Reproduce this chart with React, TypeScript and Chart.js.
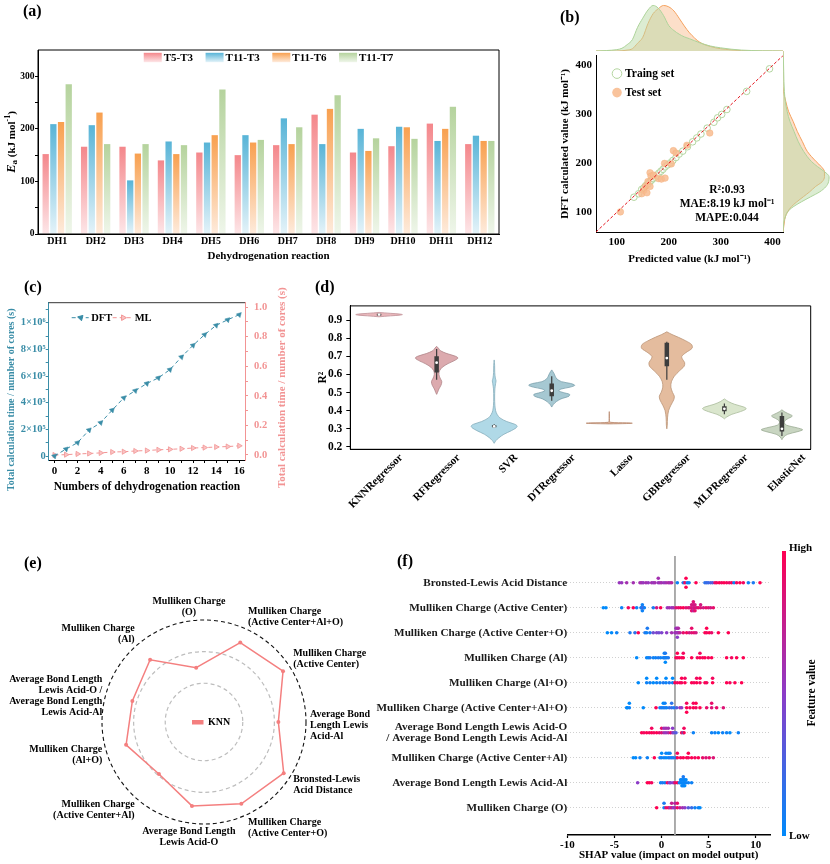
import React, { useEffect, useRef } from 'react';
import { Chart, registerables } from 'chart.js';

Chart.register(...registerables);

const SERIF = '"Liberation Serif", "Times New Roman", Times, serif';
Chart.defaults.font.family = SERIF;
Chart.defaults.font.weight = 'bold';
Chart.defaults.color = '#000';

// ================= (a) activation energies =================
const dhLabels = ['DH1', 'DH2', 'DH3', 'DH4', 'DH5', 'DH6', 'DH7', 'DH8', 'DH9', 'DH10', 'DH11', 'DH12'];
const barSeriesNames = ['T5-T3', 'T11-T3', 'T11-T6', 'T11-T7'];
const eaT5T3 = [152, 166, 166, 140, 155, 150, 169, 227, 155, 167, 210, 171];
const eaT11T3 = [209, 207, 102, 176, 174, 188, 220, 171, 200, 204, 177, 187];
const eaT11T6 = [213, 231, 153, 152, 188, 174, 171, 238, 158, 203, 200, 177];
const eaT11T7 = [285, 171, 171, 169, 275, 179, 203, 264, 182, 181, 242, 177];
const eaTicks = [0, 50, 100, 150, 200, 250, 300];
const barTopColors = ['#f4878b', '#58b4d7', '#f8a04f', '#b5d39d'];
const barBottomColors = ['#fde6e8', '#e4f3f9', '#feebdc', '#eff6ea'];

// ================= (b) parity plot =================
const parityRange = [60, 420];
const parityTicks = [100, 200, 300, 400];
const trainSet = [
  [133, 131], [142, 138], [148, 147], [152, 150], [156, 155], [160, 158], [164, 163], [167, 166],
  [170, 169], [174, 172], [177, 176], [181, 180], [185, 184], [189, 188], [193, 193], [198, 197],
  [203, 201], [208, 206], [214, 212], [220, 219], [227, 225], [236, 234], [246, 244], [254, 252],
  [262, 260], [274, 272], [287, 284], [294, 293], [302, 300], [312, 310], [350, 347], [394, 393],
];
const testSet = [
  [107, 101], [279, 262], [235, 237], [209, 226], [214, 221], [192, 200], [205, 199], [164, 181],
  [166, 174], [171, 176], [180, 169], [186, 168], [193, 170], [160, 163], [155, 153], [152, 145],
  [164, 153], [148, 138], [158, 140],
];
const densX = [60, 80, 100, 110, 120, 130, 140, 150, 160, 170, 180, 190, 200, 210, 220, 230, 240, 260, 280, 300, 320, 340, 360, 380, 400, 420];
const densTrainTop = [0, 0.01, 0.03, 0.06, 0.14, 0.25, 0.52, 0.72, 0.9, 1.0, 0.94, 0.78, 0.56, 0.45, 0.37, 0.31, 0.27, 0.18, 0.11, 0.07, 0.04, 0.02, 0.01, 0.005, 0.003, 0];
const densTestTop = [0, 0, 0, 0.005, 0.02, 0.05, 0.17, 0.3, 0.6, 0.82, 0.93, 1.0, 0.97, 0.88, 0.72, 0.55, 0.4, 0.19, 0.1, 0.05, 0.025, 0.008, 0.002, 0, 0, 0];
const densY = [60, 80, 90, 100, 110, 120, 130, 140, 150, 160, 170, 180, 190, 200, 220, 240, 260, 280, 300, 320, 340, 360, 380, 400, 420];
const densTrainRight = [0, 0.02, 0.05, 0.1, 0.22, 0.4, 0.6, 0.8, 0.93, 0.99, 1.0, 0.9, 0.75, 0.62, 0.45, 0.33, 0.24, 0.15, 0.09, 0.05, 0.03, 0.02, 0.015, 0.01, 0];
const densTestRight = [0, 0.03, 0.05, 0.1, 0.18, 0.3, 0.44, 0.58, 0.7, 0.85, 0.9, 0.9, 0.83, 0.72, 0.53, 0.42, 0.31, 0.22, 0.12, 0.06, 0.01, 0, 0, 0, 0];
const statLines = ['R\u00b2:0.93', 'MAE:8.19 kJ mol\u207b\u00b9', 'MAPE:0.044'];

// ================= (c) calculation time =================
const nReactions = [0, 1, 2, 3, 4, 5, 6, 7, 8, 9, 10, 11, 12, 13, 14, 15, 16];
const dftTime = [0, 52000, 100000, 195000, 250000, 344000, 436000, 490000, 544000, 586000, 648000, 743000, 830000, 910000, 980000, 1022000, 1060000];
const mlTime = [0, 0.002, 0.007, 0.01, 0.014, 0.02, 0.022, 0.027, 0.03, 0.035, 0.038, 0.042, 0.047, 0.05, 0.054, 0.057, 0.062];
const dftTicks = [0, 100000, 200000, 300000, 400000, 500000, 600000, 700000, 800000, 900000, 1000000, 1100000];
const mlTicks = [0, 0.1, 0.2, 0.3, 0.4, 0.5, 0.6, 0.7, 0.8, 0.9, 1.0];
const calcTimeTitle = 'Total calculation time / number of cores (s)';
const TEAL = '#3a8da7';
const PINK = '#f29494';

// ================= (d) violins =================
const models = ['KNNRegressor', 'RFRegressor', 'SVR', 'DTRegressor', 'Lasso', 'GBRegressor', 'MLPRegressor', 'ElasticNet'];
const violinKNN = [[0.918, 0], [0.923, 0.2], [0.927, 0.36], [0.93, 0.405], [0.933, 0.36], [0.937, 0.2], [0.942, 0]];
const violinRF = [[0.49, 0], [0.5, 0.015], [0.52, 0.04], [0.54, 0.075], [0.56, 0.09], [0.58, 0.06], [0.6, 0.04], [0.62, 0.05], [0.64, 0.1], [0.66, 0.2], [0.675, 0.3], [0.69, 0.37], [0.7, 0.33], [0.715, 0.18], [0.73, 0.07], [0.745, 0.03], [0.755, 0]];
const violinSVR = [[0.22, 0], [0.235, 0.03], [0.25, 0.08], [0.27, 0.17], [0.29, 0.3], [0.305, 0.38], [0.315, 0.4], [0.325, 0.36], [0.34, 0.22], [0.36, 0.1], [0.38, 0.05], [0.4, 0.025], [0.43, 0.012], [0.47, 0.008], [0.52, 0.012], [0.55, 0.025], [0.565, 0.032], [0.58, 0.02], [0.61, 0.01], [0.65, 0.008], [0.68, 0]];
const violinDT = [[0.42, 0], [0.435, 0.03], [0.45, 0.08], [0.465, 0.16], [0.48, 0.3], [0.49, 0.31], [0.5, 0.2], [0.51, 0.12], [0.52, 0.17], [0.53, 0.32], [0.54, 0.4], [0.55, 0.33], [0.56, 0.17], [0.575, 0.09], [0.59, 0.06], [0.605, 0.04], [0.625, 0]];
const violinLasso = [[0.327, 0], [0.329, 0.3], [0.331, 0.4], [0.333, 0.3], [0.336, 0.02], [0.345, 0.004], [0.37, 0.003], [0.395, 0]];
const violinGB = [[0.3, 0], [0.32, 0.008], [0.36, 0.012], [0.4, 0.03], [0.43, 0.07], [0.46, 0.12], [0.48, 0.13], [0.5, 0.1], [0.53, 0.07], [0.56, 0.08], [0.59, 0.13], [0.62, 0.22], [0.645, 0.3], [0.665, 0.31], [0.685, 0.27], [0.7, 0.26], [0.72, 0.33], [0.745, 0.44], [0.765, 0.43], [0.785, 0.33], [0.805, 0.2], [0.82, 0.09], [0.835, 0]];
const violinMLP = [[0.355, 0], [0.365, 0.04], [0.38, 0.13], [0.395, 0.28], [0.41, 0.38], [0.42, 0.34], [0.435, 0.18], [0.45, 0.07], [0.465, 0]];
const violinEN = [[0.24, 0], [0.255, 0.03], [0.27, 0.1], [0.285, 0.28], [0.295, 0.36], [0.305, 0.27], [0.32, 0.08], [0.335, 0.04], [0.35, 0.07], [0.365, 0.16], [0.372, 0.18], [0.385, 0.1], [0.395, 0.04], [0.405, 0]];
const violinProfiles = [violinKNN, violinRF, violinSVR, violinDT, violinLasso, violinGB, violinMLP, violinEN];
const whiskerLo = [0.922, 0.57, 0.305, 0.455, NaN, 0.57, 0.38, 0.26];
const boxQ1 = [0.925, 0.61, 0.308, 0.48, NaN, 0.645, 0.397, 0.285];
const medians = [0.93, 0.665, 0.313, 0.51, NaN, 0.69, 0.41, 0.3];
const boxQ3 = [0.935, 0.7, 0.32, 0.55, NaN, 0.775, 0.425, 0.37];
const whiskerHi = [0.938, 0.74, 0.325, 0.59, NaN, 0.78, 0.44, 0.39];
const r2Ticks = [0.2, 0.3, 0.4, 0.5, 0.6, 0.7, 0.8, 0.9];
const modelTicks = [0, 1, 2, 3, 4, 5, 6, 7];
const violinFill = ['#e9b7bb', '#dcaaae', '#b0d9e7', '#a6c8d2', '#d9a98e', '#e4bc9e', '#dae6cd', '#c8d5c1'];
const violinEdge = ['#c09298', '#b08488', '#86adbb', '#7aa0ac', '#b98a70', '#bb9476', '#aabb9a', '#9aab93'];

// ================= (e) radar =================
const radarLabels = [
  ['Mulliken Charge', '(O)'],
  ['Mulliken Charge', '(Active Center+Al+O)'],
  ['Mulliken Charge', '(Active Center)'],
  ['Average Bond', 'Length Lewis', 'Acid-Al'],
  ['Bronsted-Lewis', 'Acid Distance'],
  ['Mulliken Charge', '(Active Center+O)'],
  ['Average Bond Length', 'Lewis Acid-O'],
  ['Mulliken Charge', '(Active Center+Al)'],
  ['Mulliken Charge', '(Al+O)'],
  ['Average Bond Length', 'Lewis Acid-O /', 'Average Bond Length', 'Lewis Acid-Al'],
  ['Mulliken Charge', '(Al)'],
];
const radarValues = [0.538, 0.856, 0.921, 0.729, 0.929, 0.881, 0.831, 0.675, 0.796, 0.732, 0.807];
const radarGrid = [0, 0.38, 0.69, 1.0];
const RADAR_COLOR = '#f47f7f';

// ================= (f) SHAP =================
const shapFeatures = [
  'Bronsted-Lewis Acid Distance',
  'Mulliken Charge (Active Center)',
  'Mulliken Charge (Active Center+O)',
  'Mulliken Charge (Al)',
  'Mulliken Charge (Al+O)',
  'Mulliken Charge (Active Center+Al+O)',
  ['Average Bond Length Lewis Acid-O', '/ Average Bond Length Lewis Acid-Al'],
  'Mulliken Charge (Active Center+Al)',
  'Average Bond Length Lewis Acid-Al',
  'Mulliken Charge (O)',
];
const shapBLAD = [[-4.48, 0.55], [-4.23, 0.55], [-3.7, 0.6], [-3.0, 0.6], [-2.29, 0.6], [-2.11, 0.6], [-1.94, 0.55], [-1.65, 0.6], [-1.41, 0.55], [-1.05, 0.6], [-0.87, 0.55], [-0.7, 0.6], [-0.35, 0.55], [-0.35, 0.6], [-0.17, 0.6], [0.01, 0.6], [0.26, 0.55], [0.47, 0.6], [0.71, 0.65], [0.89, 0.6], [1.07, 0.7], [1.67, 0.05], [2.3, 0.1], [2.48, 0.95], [2.59, 1.0], [2.59, 1.0], [2.73, 0.05], [2.91, 0.05], [3.65, 1.0], [4.6, 0.15], [4.78, 0.2], [4.96, 0.2], [5.2, 0.25], [5.41, 0.3], [5.66, 0.9], [5.84, 0.95], [6.12, 1.0], [6.37, 0.95], [6.62, 1.0], [6.9, 0.95], [7.18, 0.9], [7.43, 1.0], [7.68, 0.05], [7.96, 0.95], [8.31, 1.0], [8.67, 0.95], [9.2, 0.05], [9.73, 0.1], [10.44, 1.0]];
const shapMcAC = [[-6.18, 0], [-5.9, 0], [-4.23, 0.05], [-3.53, 0.95], [-3.0, 1.0], [-2.64, 0.05], [-2.18, 0.05], [-2.11, 0.1], [-2.04, 0.05], [-2.04, 0.05], [-1.94, 0.3], [-1.83, 0.05], [-0.88, 0.1], [-0.52, 0.8], [-0.1, 1.0], [0.61, 0.55], [0.82, 0.6], [1.07, 0.55], [1.24, 0.6], [1.53, 0.85], [1.78, 0.9], [2.02, 0.95], [2.3, 1.0], [2.59, 0.85], [2.84, 0.9], [3.01, 0.8], [3.19, 0.85], [3.19, 0.8], [3.19, 0.9], [3.37, 0.75], [3.37, 0.8], [3.37, 0.7], [3.37, 0.85], [3.54, 0.85], [3.54, 0.8], [3.54, 0.9], [3.72, 0.8], [3.9, 0.9], [4.14, 0.85], [4.14, 0.8], [4.43, 0.8], [4.71, 0.9], [4.96, 0.85], [5.2, 0.8], [5.49, 0.9]];
const shapMcACO = [[-5.75, 0], [-5.3, 0], [-4.76, 0.05], [-3.35, 0.1], [-2.82, 0.15], [-2.47, 1.0], [-1.76, 0.1], [-1.58, 0.05], [-1.51, 0.1], [-1.23, 0.1], [-0.88, 0.4], [-0.52, 0.45], [-0.28, 0.4], [0.01, 0.45], [0.54, 0.5], [1.07, 0.6], [1.42, 0.55], [1.53, 0.6], [1.53, 0.55], [1.67, 0.55], [1.67, 0.6], [1.67, 0.5], [1.78, 0.6], [1.78, 0.65], [1.95, 0.7], [2.3, 0.9], [2.66, 0.95], [2.94, 0.8], [3.19, 0.85], [3.19, 0.9], [3.44, 0.9], [3.65, 0.8], [4.6, 1.0], [4.78, 0.95], [4.78, 1.0], [5.06, 1.0], [5.31, 0.9], [6.02, 1.0], [7.08, 1.0]];
const shapMcAl = [[-2.64, 0], [-1.58, 0.05], [-1.41, 0], [-1.23, 0.1], [-0.88, 0.05], [-0.63, 0.05], [-0.35, 0.1], [-0.1, 0.05], [0.18, 0.05], [0.29, 0.1], [0.29, 0.05], [0.4, 0.05], [0.4, 0.1], [0.4, 0], [0.54, 0.05], [0.71, 0.1], [1.53, 1.0], [1.67, 0.95], [1.67, 1.0], [1.88, 1.0], [2.13, 0.95], [2.3, 1.0], [2.3, 0.95], [3.19, 1.0], [3.79, 0.95], [4.07, 1.0], [4.07, 0.95], [4.36, 0.95], [4.6, 1.0], [4.96, 0.95], [5.31, 1.0], [6.9, 1.0], [7.43, 0.95], [7.96, 1.0], [8.67, 1.0]];
const shapMcAlO = [[-2.47, 0], [-1.58, 0.05], [-1.58, 0], [-1.23, 0.05], [-0.88, 0], [-0.52, 0.05], [-0.52, 0], [-0.17, 0.05], [0.18, 0.1], [0.47, 0.05], [0.47, 0], [0.82, 0.1], [1.17, 0.05], [1.17, 0], [1.42, 1.0], [1.67, 0.95], [1.95, 1.0], [2.13, 0.95], [2.13, 1.0], [2.48, 1.0], [2.48, 0.95], [3.19, 1.0], [3.44, 0.95], [3.72, 1.0], [3.72, 0.95], [4.07, 0.95], [4.07, 1.0], [4.6, 1.0], [4.78, 0.95], [5.41, 1.0], [5.41, 0.95], [6.9, 1.0], [7.25, 0.95], [7.78, 1.0], [8.49, 1.0]];
const shapMcACAlO = [[-3.7, 0], [-3.63, 0], [-3.42, 0.05], [-3.42, 0], [-1.94, 0], [-0.59, 1.0], [-0.17, 0.05], [0.01, 0.1], [0.18, 0.05], [0.18, 0], [0.36, 0.1], [0.36, 0.05], [0.54, 0.05], [0.82, 0.15], [1.07, 0.2], [1.07, 0.15], [1.31, 0.1], [1.6, 0.3], [1.95, 0.55], [2.13, 0.5], [2.66, 1.0], [2.66, 0.95], [2.66, 1.0], [3.01, 0.95], [3.37, 1.0], [3.37, 0.95], [3.65, 0.95], [3.65, 1.0], [4.07, 1.0], [4.78, 0.9], [5.31, 0.85], [5.31, 0.9], [5.84, 0.9], [6.55, 0.85]];
const shapAblRatio = [[-2.11, 1.0], [-1.87, 0.95], [-1.58, 1.0], [-1.3, 0.95], [-1.05, 1.0], [-1.05, 0.95], [-0.81, 0.95], [-0.52, 1.0], [-0.24, 0.9], [0.01, 0.85], [0.01, 0.9], [0.26, 0.6], [0.26, 0.55], [0.47, 0.55], [0.47, 0.6], [0.71, 0.65], [0.71, 0.6], [0.96, 0.9], [1.17, 0.6], [1.17, 0.5], [1.31, 0.4], [1.53, 0.3], [2.13, 1.0], [2.3, 0.05], [2.38, 1.0], [2.38, 0.95], [3.37, 0.05], [5.31, 0.05], [5.66, 0.05], [6.02, 0], [6.48, 0.05], [6.9, 0.05], [7.25, 0], [8.14, 0.05]];
const shapMcACAl = [[-3.0, 0], [-2.75, 0], [-2.29, 0.05], [-1.51, 0.05], [-0.77, 1.0], [-0.17, 0.05], [0.01, 0.05], [0.01, 0], [0.26, 0.05], [0.47, 0], [0.47, 0.05], [0.71, 0.05], [0.71, 0], [0.89, 0.1], [0.89, 0.05], [1.07, 0.05], [1.24, 0.1], [1.53, 0.05], [1.67, 1.0], [1.67, 0.95], [2.02, 0.95], [2.3, 1.0], [2.66, 1.0], [2.84, 0.95], [2.84, 1.0], [3.19, 1.0], [3.54, 0.95], [3.9, 1.0], [4.36, 0.9], [4.71, 0.85], [5.06, 0.9], [5.49, 0.85]];
const shapAblAl = [[-2.54, 0.5], [-1.51, 1.0], [-1.3, 1.0], [-1.05, 0.95], [-0.1, 0.05], [0.11, 0.1], [0.36, 0.05], [0.61, 0.95], [0.82, 0.5], [0.96, 0.45], [1.24, 0.5], [1.42, 0.9], [1.67, 1.0], [1.88, 0.05], [2.02, 0.05], [2.02, 0], [2.16, 0], [2.16, 0.05], [2.16, 0], [2.3, 0.05], [2.3, 0], [2.3, 0.05], [2.3, 0.1], [2.45, 0], [2.45, 0.05], [2.45, 0], [2.59, 0.05], [2.59, 0], [2.84, 0.05], [3.19, 0.05]];
const shapMcO = [[-0.52, 1.0], [0.26, 0.05], [0.26, 0.1], [0.47, 0.9], [0.71, 0.95], [0.89, 0.6], [1.07, 0.8], [1.07, 0.75], [1.24, 0.5], [1.42, 0.6], [1.42, 0.65], [1.67, 0.95], [1.67, 0.9], [1.95, 0.7], [2.23, 0.6], [2.48, 0.5], [2.84, 0.3], [3.19, 0.2], [3.54, 0.05], [3.9, 0.05], [4.07, 0]];
const shapRows = [shapBLAD, shapMcAC, shapMcACO, shapMcAl, shapMcAlO, shapMcACAlO, shapAblRatio, shapMcACAl, shapAblAl, shapMcO];
const shapBaseValue = 1.42;
const shapTicks = [-10, -5, 0, 5, 10];
const shapRowTicks = [0, 1, 2, 3, 4, 5, 6, 7, 8, 9];
const SHAP_Y_MIN = -1.07;
const SHAP_Y_MAX = 10.09;
const shapStops = [[0, [0, 138, 251]], [0.5, [140, 60, 200]], [1, [255, 0, 82]]];

// ================= helpers =================
function setTicks(values) {
  return (s) => { s.ticks = values.map((v) => ({ value: v })); };
}

function shapColor(t) {
  const tt = Math.max(0, Math.min(1, t));
  const lo = tt <= 0.5 ? shapStops[0] : shapStops[1];
  const hi = tt <= 0.5 ? shapStops[1] : shapStops[2];
  const u = (tt - lo[0]) / (hi[0] - lo[0]);
  const c = lo[1].map((v, k) => Math.round(v + (hi[1][k] - v) * u));
  return `rgb(${c.join(',')})`;
}

function beeswarm(xs) {
  const min = Math.min(...xs);
  const max = Math.max(...xs);
  const nbins = 100;
  const quant = xs.map((x) => Math.round((nbins * (x - min)) / (max - min + 1e-8)));
  const order = xs.map((_, i) => i).sort((a, b) => quant[a] - quant[b] || a - b);
  const ys = new Array(xs.length).fill(0);
  let layer = 0;
  let last = -1;
  for (const ind of order) {
    if (quant[ind] !== last) layer = 0;
    ys[ind] = Math.ceil(layer / 2) * ((layer % 2) * 2 - 1);
    layer += 1;
    last = quant[ind];
  }
  const m = Math.max(...ys.map((y) => y + 1));
  const k = 0.9 * (0.4 / m);
  return ys.map((y) => y * k);
}

function barGradient(c, top, bottom) {
  const chart = c.chart;
  if (c.type !== 'data' || !chart.chartArea || !chart.scales.y) return top;
  const ys = chart.scales.y;
  const v = c.parsed ? c.parsed.y : c.raw;
  const y0 = ys.getPixelForValue(v);
  const y1 = ys.getPixelForValue(0);
  if (!isFinite(y0) || !isFinite(y1) || Math.abs(y1 - y0) < 1) return top;
  const g = chart.ctx.createLinearGradient(0, y0, 0, y1);
  g.addColorStop(0, top);
  g.addColorStop(1, bottom);
  return g;
}

function framePlugin(color, width, sides) {
  return {
    id: 'frame_' + sides,
    afterDraw(chart) {
      const { ctx, chartArea: a } = chart;
      ctx.save();
      ctx.strokeStyle = color;
      ctx.lineWidth = width;
      ctx.beginPath();
      if (sides.includes('t')) { ctx.moveTo(a.left, a.top); ctx.lineTo(a.right, a.top); }
      if (sides.includes('r')) { ctx.moveTo(a.right, a.top); ctx.lineTo(a.right, a.bottom); }
      if (sides.includes('b')) { ctx.moveTo(a.left, a.bottom); ctx.lineTo(a.right, a.bottom); }
      if (sides.includes('l')) { ctx.moveTo(a.left, a.top); ctx.lineTo(a.left, a.bottom); }
      ctx.stroke();
      ctx.restore();
    },
  };
}

function triangle(ctx, x, y, r, deg) {
  let rad = (deg * Math.PI) / 180;
  ctx.beginPath();
  for (let i = 0; i < 3; i++) {
    const px = x + Math.sin(rad) * r;
    const py = y - Math.cos(rad) * r;
    if (i === 0) ctx.moveTo(px, py); else ctx.lineTo(px, py);
    rad += (2 * Math.PI) / 3;
  }
  ctx.closePath();
}

const noPlugins = { legend: { display: false }, tooltip: { enabled: false } };

// ================= (a) =================
const legendAPlugin = {
  id: 'legendA',
  afterDraw(chart) {
    const { ctx, chartArea: a } = chart;
    ctx.save();
    ctx.font = `bold 11px ${SERIF}`;
    const box = 18, gap = 2, sep = 12.5;
    const widths = barSeriesNames.map((n) => ctx.measureText(n).width);
    const total = widths.reduce((s, w) => s + box + gap + w, 0) + sep * (barSeriesNames.length - 1);
    let x = (a.left + a.right) / 2 - total / 2;
    const y = a.top + 7.5;
    barSeriesNames.forEach((n, i) => {
      const g = ctx.createLinearGradient(0, y - 4.7, 0, y + 4.7);
      g.addColorStop(0, barTopColors[i]);
      g.addColorStop(1, barBottomColors[i]);
      ctx.fillStyle = g;
      ctx.fillRect(x, y - 4.7, box, 9.4);
      x += box + gap;
      ctx.fillStyle = '#000';
      ctx.textBaseline = 'middle';
      ctx.textAlign = 'left';
      ctx.fillText(n, x, y + 0.5);
      x += widths[i] + sep;
    });
    ctx.restore();
  },
};

const yTitleAPlugin = {
  id: 'yTitleA',
  afterDraw(chart) {
    const { ctx, chartArea: a } = chart;
    const parts = [
      { t: 'E', f: `italic bold 12.5px ${SERIF}`, dy: 0 },
      { t: 'a', f: `bold 9px ${SERIF}`, dy: 3 },
      { t: ' (kJ mol', f: `bold 11px ${SERIF}`, dy: 0 },
      { t: '-1', f: `bold 8px ${SERIF}`, dy: -4.5 },
      { t: ')', f: `bold 11px ${SERIF}`, dy: 0 },
    ];
    ctx.save();
    let total = 0;
    const ws = parts.map((p) => { ctx.font = p.f; const w = ctx.measureText(p.t).width; total += w; return w; });
    ctx.translate(12, (a.top + a.bottom) / 2);
    ctx.rotate(-Math.PI / 2);
    ctx.fillStyle = '#000';
    ctx.textBaseline = 'middle';
    ctx.textAlign = 'left';
    let x = -total / 2;
    parts.forEach((p, i) => { ctx.font = p.f; ctx.fillText(p.t, x, p.dy); x += ws[i]; });
    ctx.restore();
  },
};

function buildA() {
  const series = [eaT5T3, eaT11T3, eaT11T6, eaT11T7];
  return {
    type: 'bar',
    data: {
      labels: dhLabels,
      datasets: series.map((vals, i) => ({
        label: barSeriesNames[i],
        data: vals,
        backgroundColor: (c) => barGradient(c, barTopColors[i], barBottomColors[i]),
        borderWidth: 0,
        barPercentage: 0.82,
        categoryPercentage: 0.8,
      })),
    },
    options: {
      animation: false,
      responsive: false,
      events: [],
      layout: { padding: { top: 50, right: 11, left: 0, bottom: 0 } },
      plugins: noPlugins,
      scales: {
        x: {
          grid: { display: false, drawTicks: false },
          border: { display: true, color: '#000', width: 1 },
          ticks: { font: { size: 10, weight: 'bold' }, color: '#000', padding: 1, autoSkip: false, maxRotation: 0 },
          title: { display: true, text: 'Dehydrogenation reaction', color: '#000', font: { size: 11, weight: 'bold' }, padding: { top: 0, bottom: 5 } },
          afterFit: (s) => { s.height = 34; },
        },
        y: {
          min: 0,
          max: 350,
          afterBuildTicks: setTicks(eaTicks),
          ticks: { callback: (v) => (Math.round(v) % 100 === 0 ? String(Math.round(v)) : ''), font: { size: 9.5, weight: 'bold' }, color: '#000', padding: 0.5 },
          grid: { drawOnChartArea: false, tickLength: 3, color: '#000' },
          border: { color: '#000' },
          afterFit: (s) => { s.width = 38; },
        },
      },
    },
    plugins: [framePlugin('#000', 1, 'trbl'), legendAPlugin, yTitleAPlugin],
  };
}

// ================= (b) =================
const legendBPlugin = {
  id: 'legendB',
  afterDraw(chart) {
    const { ctx, chartArea: a } = chart;
    ctx.save();
    ctx.font = `bold 11.5px ${SERIF}`;
    ctx.textBaseline = 'middle';
    ctx.textAlign = 'left';
    const x = a.left + 21;
    const y1 = a.top + 18;
    const y2 = a.top + 37;
    ctx.beginPath();
    ctx.arc(x, y1, 4.8, 0, Math.PI * 2);
    ctx.strokeStyle = '#b3d59f';
    ctx.lineWidth = 1;
    ctx.stroke();
    ctx.beginPath();
    ctx.arc(x, y2, 4.8, 0, Math.PI * 2);
    ctx.fillStyle = 'rgba(248,188,145,0.9)';
    ctx.fill();
    ctx.fillStyle = '#000';
    ctx.fillText('Traing set', x + 8, y1 + 0.5);
    ctx.fillText('Test set', x + 8, y2 + 0.5);
    ctx.restore();
  },
};

const statsBPlugin = {
  id: 'statsB',
  afterDraw(chart) {
    const { ctx, chartArea: a } = chart;
    ctx.save();
    ctx.font = `bold 11.5px ${SERIF}`;
    ctx.textBaseline = 'middle';
    ctx.textAlign = 'center';
    ctx.fillStyle = '#000';
    const cx = a.left + 131;
    statLines.forEach((t, i) => ctx.fillText(t, cx, a.top + 134 + i * 14.2));
    ctx.restore();
  },
};

function buildBMain() {
  return {
    type: 'scatter',
    data: {
      datasets: [
        { label: 'y=x', data: parityRange.map((v) => ({ x: v, y: v })), showLine: true, borderColor: '#e3121b', borderWidth: 1, borderDash: [3, 2], pointRadius: 0, order: 0 },
        { label: 'Traing set', data: trainSet.map(([x, y]) => ({ x, y })), pointRadius: 3.3, pointBackgroundColor: 'rgba(255,255,255,0.5)', pointBorderColor: '#b3d59f', pointBorderWidth: 1, order: 2 },
        { label: 'Test set', data: testSet.map(([x, y]) => ({ x, y })), pointRadius: 3.3, pointBackgroundColor: 'rgba(248,188,145,0.85)', pointBorderColor: 'rgba(245,175,125,0.9)', pointBorderWidth: 0.5, order: 1 },
      ],
    },
    options: {
      animation: false,
      responsive: false,
      events: [],
      layout: { padding: { top: 6, right: 7, left: 0, bottom: 0 } },
      plugins: noPlugins,
      scales: {
        x: {
          type: 'linear', min: parityRange[0], max: parityRange[1],
          afterBuildTicks: setTicks(parityTicks),
          ticks: { font: { size: 11, weight: 'bold' }, color: '#000', padding: 4 },
          grid: { display: false, drawTicks: false },
          border: { color: '#000', width: 1 },
          title: { display: true, text: 'Predicted value (kJ mol\u207b\u00b9)', color: '#000', font: { size: 11, weight: 'bold' }, padding: { top: 0, bottom: 9 } },
          afterFit: (s) => { s.height = 43; },
        },
        y: {
          type: 'linear', min: parityRange[0], max: parityRange[1],
          afterBuildTicks: setTicks(parityTicks),
          ticks: { font: { size: 11, weight: 'bold' }, color: '#000', padding: 4 },
          grid: { display: false, drawTicks: false },
          border: { color: '#000', width: 1 },
          title: { display: true, text: 'DFT calculated value (kJ mol\u207b\u00b9)', color: '#000', font: { size: 11, weight: 'bold' }, padding: { top: 3.4, bottom: 0 } },
          afterFit: (s) => { s.width = 41; },
        },
      },
    },
    plugins: [legendBPlugin, statsBPlugin],
  };
}

function buildBTop() {
  return {
    type: 'line',
    data: {
      datasets: [
        { data: densX.map((x, i) => ({ x, y: densTrainTop[i] })), borderColor: '#add39a', backgroundColor: 'rgba(186,218,165,0.5)', fill: 'origin', borderWidth: 1, pointRadius: 0, cubicInterpolationMode: 'monotone' },
        { data: densX.map((x, i) => ({ x, y: densTestTop[i] })), borderColor: '#f5a05c', backgroundColor: 'rgba(248,184,135,0.45)', fill: 'origin', borderWidth: 1, pointRadius: 0, cubicInterpolationMode: 'monotone' },
      ],
    },
    options: {
      animation: false, responsive: false, events: [], plugins: noPlugins,
      scales: { x: { type: 'linear', min: parityRange[0], max: parityRange[1], display: false }, y: { type: 'linear', min: 0, max: 1.12, display: false } },
    },
  };
}

function buildBRight() {
  return {
    type: 'line',
    data: {
      datasets: [
        { data: densY.map((y, i) => ({ x: densTrainRight[i], y })), borderColor: '#add39a', backgroundColor: 'rgba(186,218,165,0.5)', fill: 'origin', borderWidth: 1, pointRadius: 0, cubicInterpolationMode: 'monotone' },
        { data: densY.map((y, i) => ({ x: densTestRight[i], y })), borderColor: '#f5a05c', backgroundColor: 'rgba(248,184,135,0.45)', fill: 'origin', borderWidth: 1, pointRadius: 0, cubicInterpolationMode: 'monotone' },
      ],
    },
    options: {
      indexAxis: 'y',
      animation: false, responsive: false, events: [], plugins: noPlugins,
      scales: { x: { type: 'linear', min: 0, max: 1.02, display: false }, y: { type: 'linear', min: parityRange[0], max: parityRange[1], display: false } },
    },
  };
}

// ================= (c) =================
function fmtDft(v) {
  const r = Math.round(v / 100000);
  if (r % 2 !== 0) return '';
  if (r === 0) return '0';
  if (r === 10) return '1\u00d710\u2076';
  return `${r}\u00d710\u2075`;
}
function fmtMl(v) {
  const r = Math.round(v * 10);
  return r % 2 === 0 ? (r / 10).toFixed(1) : '';
}

const legendCPlugin = {
  id: 'legendC',
  afterDraw(chart) {
    const { ctx, chartArea: a } = chart;
    ctx.save();
    const y = a.top + 15;
    const items = [
      { x0: a.left + 23, x1: a.left + 40, mx: a.left + 32, tx: a.left + 42.5, t: 'DFT', c: TEAL, fill: TEAL, rot: 45 },
      { x0: a.left + 64, x1: a.left + 82, mx: a.left + 74.5, tx: a.left + 86, t: 'ML', c: PINK, fill: '#f9c4c4', rot: 90 },
    ];
    ctx.font = `bold 10.5px ${SERIF}`;
    ctx.textBaseline = 'middle';
    ctx.textAlign = 'left';
    items.forEach((it) => {
      ctx.strokeStyle = it.c;
      ctx.lineWidth = 1;
      ctx.setLineDash([4, 3]);
      ctx.beginPath();
      ctx.moveTo(it.x0, y);
      ctx.lineTo(it.x1, y);
      ctx.stroke();
      ctx.setLineDash([]);
      triangle(ctx, it.mx, y, 3.2, it.rot);
      ctx.fillStyle = it.fill;
      ctx.fill();
      ctx.stroke();
      ctx.fillStyle = '#000';
      ctx.fillText(it.t, it.tx, y + 0.5);
    });
    ctx.restore();
  },
};

const yTitlesCPlugin = {
  id: 'yTitlesC',
  afterDraw(chart) {
    const ctx = chart.ctx;
    const a = chart.chartArea;
    const draw = (x, y, size, color) => {
      ctx.save();
      ctx.translate(x, y);
      ctx.rotate(-Math.PI / 2);
      ctx.font = `bold ${size}px ${SERIF}`;
      ctx.fillStyle = color;
      ctx.textAlign = 'center';
      ctx.textBaseline = 'middle';
      ctx.fillText(calcTimeTitle, 0, 0);
      ctx.restore();
    };
    draw(11.7, a.top + 97, 10, TEAL);
    draw(281.7, a.top + 85, 11, PINK);
  },
};

function buildC() {
  return {
    type: 'line',
    data: {
      datasets: [
        { label: 'DFT', data: nReactions.map((x, i) => ({ x, y: dftTime[i] })), yAxisID: 'y', borderColor: TEAL, borderDash: [4, 3], borderWidth: 1, pointStyle: 'triangle', rotation: 45, pointRadius: 3, pointBackgroundColor: TEAL, pointBorderColor: TEAL, pointBorderWidth: 0.5 },
        { label: 'ML', data: nReactions.map((x, i) => ({ x, y: mlTime[i] })), yAxisID: 'y1', borderColor: PINK, borderDash: [4, 3], borderWidth: 1, pointStyle: 'triangle', rotation: 90, pointRadius: 3, pointBackgroundColor: '#f9c4c4', pointBorderColor: PINK, pointBorderWidth: 0.8 },
      ],
    },
    options: {
      animation: false, responsive: false, events: [], plugins: noPlugins,
      layout: { padding: { top: 22.7, left: 0, right: 0, bottom: 0 } },
      scales: {
        x: {
          type: 'linear', min: -0.5, max: 16.5,
          afterBuildTicks: setTicks(nReactions),
          ticks: { callback: (v) => (Math.round(v) % 2 === 0 ? String(Math.round(v)) : ''), font: { size: 11, weight: 'bold' }, color: '#000', padding: 2, autoSkip: false, maxRotation: 0 },
          grid: { drawOnChartArea: false, tickLength: 3, color: '#000' },
          border: { color: '#000' },
          title: { display: true, text: 'Numbers of dehydrogenation reaction', color: '#000', font: { size: 11.5, weight: 'bold' }, padding: { top: 0, bottom: 6.4 } },
          afterFit: (s) => { s.height = 40; },
        },
        y: {
          type: 'linear', position: 'left', min: -30000, max: 1150000,
          afterBuildTicks: setTicks(dftTicks),
          ticks: { callback: fmtDft, color: TEAL, font: { size: 10.5, weight: 'bold' }, padding: 0, autoSkip: false },
          grid: { drawOnChartArea: false, tickLength: 3, color: TEAL },
          border: { color: TEAL },
          afterFit: (s) => { s.width = 48.7; },
        },
        y1: {
          type: 'linear', position: 'right', min: -0.034, max: 1.03,
          afterBuildTicks: setTicks(mlTicks),
          ticks: { callback: fmtMl, color: PINK, font: { size: 10.5, weight: 'bold' }, padding: 6, autoSkip: false },
          grid: { drawOnChartArea: false, tickLength: 3, color: PINK },
          border: { color: PINK },
          afterFit: (s) => { s.width = 50; },
        },
      },
    },
    plugins: [framePlugin('#000', 0.8, 't'), legendCPlugin, yTitlesCPlugin],
  };
}

// ================= (d) =================
function violinOutline(profile, i) {
  const right = profile.map(([y, w]) => ({ x: i + w, y }));
  const left = profile.slice().reverse().map(([y, w]) => ({ x: i - w, y }));
  const pts = [...right, ...left];
  pts.push(pts[0]);
  return pts;
}

function buildD() {
  const datasets = [];
  violinProfiles.forEach((prof, i) => {
    datasets.push({ data: violinOutline(prof, i), showLine: true, fill: 'shape', backgroundColor: violinFill[i], borderColor: violinEdge[i], borderWidth: 0.8, pointRadius: 0, tension: 0.3, order: 4 });
  });
  models.forEach((_, i) => {
    if (!isFinite(boxQ1[i])) return;
    datasets.push({ data: [{ x: i, y: whiskerLo[i] }, { x: i, y: whiskerHi[i] }], showLine: true, borderColor: '#3d3d3d', borderWidth: 1.2, pointRadius: 0, order: 3 });
    datasets.push({ data: [{ x: i, y: boxQ1[i] }, { x: i, y: boxQ3[i] }], showLine: true, borderColor: '#3d3d3d', borderWidth: 4.5, pointRadius: 0, order: 2 });
  });
  datasets.push({ data: medians.map((m, i) => ({ x: i, y: m })).filter((p) => isFinite(p.y)), pointRadius: 1.4, pointBackgroundColor: '#ffffff', pointBorderWidth: 0, order: 1 });
  return {
    type: 'scatter',
    data: { datasets },
    options: {
      animation: false, responsive: false, events: [], plugins: noPlugins,
      layout: { padding: { top: 10, right: 9.3, left: 0, bottom: 0 } },
      scales: {
        x: {
          type: 'linear', min: -0.5, max: 7.5,
          afterBuildTicks: setTicks(modelTicks),
          ticks: { callback: (v) => models[Math.round(v)] || '', font: { size: 11, weight: 'bold' }, color: '#000', minRotation: 45, maxRotation: 45, autoSkip: false, padding: 2, labelOffset: 22 },
          grid: { display: false, drawTicks: false },
          border: { color: '#000' },
          afterFit: (s) => { s.height = 70.7; },
        },
        y: {
          type: 'linear', min: 0.187, max: 0.978,
          afterBuildTicks: setTicks(r2Ticks),
          ticks: { callback: (v) => v.toFixed(1), font: { size: 11.5, weight: 'bold' }, color: '#000', padding: 4 },
          grid: { drawOnChartArea: false, tickLength: 4, color: '#000' },
          border: { color: '#000' },
          title: { display: true, text: 'R\u00b2', color: '#000', font: { size: 11.5, weight: 'bold' }, padding: { top: 16.4, bottom: 0 } },
          afterFit: (s) => { s.width = 50.3; },
        },
      },
    },
    plugins: [framePlugin('#000', 1, 'trbl')],
  };
}

// ================= (e) =================
const radarLabelPlugin = {
  id: 'radarLabels',
  afterDraw(chart) {
    const s = chart.scales.r;
    const ctx = chart.ctx;
    ctx.save();
    ctx.font = `bold 10px ${SERIF}`;
    ctx.fillStyle = '#000';
    ctx.textBaseline = 'middle';
    const lh = 11;
    radarLabels.forEach((lines, i) => {
      const ang = s.getIndexAngle(i);
      const sn = Math.sin(ang);
      const cs = Math.cos(ang);
      const p = s.getPointPosition(i, s.drawingArea + 4);
      const align = sn > 0.2 ? 'left' : sn < -0.2 ? 'right' : 'center';
      const h = lines.length * lh;
      const cy = Math.abs(cs) < 0.3 ? p.y + 3.5 : p.y - cs * h * 0.45;
      ctx.textAlign = align;
      lines.forEach((ln, k) => ctx.fillText(ln, p.x, cy - h / 2 + lh / 2 + k * lh));
    });
    ctx.restore();
  },
};

const radarLegendPlugin = {
  id: 'radarLegend',
  afterDraw(chart) {
    const s = chart.scales.r;
    const ctx = chart.ctx;
    ctx.save();
    ctx.fillStyle = RADAR_COLOR;
    ctx.fillRect(s.xCenter - 12, s.yCenter - 2, 11.5, 4.5);
    ctx.font = `bold 10px ${SERIF}`;
    ctx.fillStyle = '#000';
    ctx.textBaseline = 'middle';
    ctx.textAlign = 'left';
    ctx.fillText('KNN', s.xCenter + 4, s.yCenter + 0.5);
    ctx.restore();
  },
};

function buildE() {
  return {
    type: 'radar',
    data: {
      labels: radarLabels,
      datasets: [{ label: 'KNN', data: radarValues, borderColor: RADAR_COLOR, backgroundColor: 'rgba(0,0,0,0)', borderWidth: 1.5, pointRadius: 2, pointBackgroundColor: RADAR_COLOR, pointBorderWidth: 0, fill: false }],
    },
    options: {
      animation: false, responsive: false, events: [], plugins: noPlugins,
      layout: { padding: { left: 102, top: 35, right: 64, bottom: 36 } },
      scales: {
        r: {
          min: 0, max: 1, startAngle: -8.18,
          afterBuildTicks: setTicks(radarGrid),
          ticks: { display: false },
          pointLabels: { display: false },
          angleLines: { display: false },
          grid: { circular: true, color: (c) => (c.index === radarGrid.length - 1 ? '#111' : '#bdbdbd'), lineWidth: (c) => (c.index === radarGrid.length - 1 ? 1.1 : 1.2) },
          border: { dash: [4, 3] },
        },
      },
    },
    plugins: [radarLabelPlugin, radarLegendPlugin],
  };
}

// ================= (f) =================
function buildF() {
  const points = [];
  shapRows.forEach((row, r) => {
    const jit = beeswarm(row.map((p) => p[0]));
    row.forEach(([x, fv], k) => points.push({ x, y: r - jit[k], fv }));
  });
  return {
    type: 'scatter',
    data: {
      datasets: [
        { data: [{ x: shapBaseValue, y: SHAP_Y_MIN }, { x: shapBaseValue, y: SHAP_Y_MAX }], showLine: true, borderColor: '#a3a3a3', borderWidth: 1.8, pointRadius: 0, order: 2 },
        { data: points, pointRadius: 1.8, pointBorderWidth: 0, pointBackgroundColor: (c) => shapColor(c.raw && typeof c.raw.fv === 'number' ? c.raw.fv : 0.5), order: 1 },
      ],
    },
    options: {
      animation: false, responsive: false, events: [], plugins: noPlugins,
      layout: { padding: { top: 6, right: 15, left: 0, bottom: 0 } },
      scales: {
        x: {
          type: 'linear', min: -10, max: 11.5,
          afterBuildTicks: setTicks(shapTicks),
          ticks: { font: { size: 11, weight: 'bold' }, color: '#000', padding: 1 },
          grid: { drawOnChartArea: false, tickLength: 3, color: '#000', tickWidth: 1.2 },
          border: { color: '#000', width: 1.5 },
          title: { display: true, text: 'SHAP value (impact on model output)', color: '#000', font: { size: 11, weight: 'bold' }, padding: { top: 0, bottom: 2.4 } },
          afterFit: (s) => { s.height = 29; },
        },
        y: {
          type: 'linear', min: SHAP_Y_MIN, max: SHAP_Y_MAX, reverse: true,
          afterBuildTicks: setTicks(shapRowTicks),
          ticks: { callback: (v) => shapFeatures[Math.round(v)] || '', font: { size: 11.2, weight: 'bold', lineHeight: 0.97 }, color: '#1a1a1a', padding: 0, autoSkip: false },
          grid: { drawTicks: false, color: '#c4c4c4', lineWidth: 0.8 },
          border: { display: false, dash: [1, 2] },
          afterFit: (s) => { s.width = 197.3; },
        },
      },
    },
  };
}

// ================= components =================
function ChartPanel(props) {
  const ref = useRef(null);
  useEffect(() => {
    if (!ref.current) return undefined;
    const chart = new Chart(ref.current, props.build());
    return () => { chart.destroy(); };
  }, []);
  const { left, top, width, height } = props;
  return (
    <canvas
      ref={ref}
      width={width}
      height={height}
      style={{ position: 'absolute', left, top, width, height, display: 'block' }}
    />
  );
}

function Label(props) {
  return (
    <div style={{ position: 'absolute', left: props.x, top: props.y, fontFamily: SERIF, fontWeight: 'bold', fontSize: props.size || 16, lineHeight: '16px', color: '#000', whiteSpace: 'nowrap' }}>
      {props.text}
    </div>
  );
}

export default function App() {
  useEffect(() => {
    document.body.style.margin = '0';
  }, []);
  return (
    <div style={{ position: 'absolute', left: 0, top: 0, width: 830, height: 864, background: '#fff', overflow: 'hidden', fontFamily: SERIF }}>
      <ChartPanel left={0} top={0} width={510} height={268} build={buildA} />
      <ChartPanel left={596} top={0} width={187} height={51} build={buildBTop} />
      <ChartPanel left={783} top={51} width={47} height={181} build={buildBRight} />
      <ChartPanel left={555} top={45} width={235} height={230} build={buildBMain} />
      <ChartPanel left={0} top={280} width={295} height={220} build={buildC} />
      <ChartPanel left={300} top={295} width={520} height={225} build={buildD} />
      <ChartPanel left={0} top={585} width={370} height={275} build={buildE} />
      <ChartPanel left={370} top={550} width={415} height={314} build={buildF} />

      <Label x={23} y={3} text="(a)" />
      <Label x={560} y={9} text="(b)" />
      <Label x={24} y={279} text="(c)" />
      <Label x={315} y={279} text="(d)" />
      <Label x={24} y={555} text="(e)" />
      <Label x={397} y={553} text="(f)" />

      <div style={{ position: 'absolute', left: 782, top: 551, width: 4, height: 285, background: 'linear-gradient(to top, rgb(0,138,251), rgb(140,60,200), rgb(255,0,82))' }} />
      <div style={{ position: 'absolute', left: 789, top: 541, fontFamily: SERIF, fontWeight: 'bold', fontSize: 11, lineHeight: '13px' }}>High</div>
      <div style={{ position: 'absolute', left: 789, top: 829, fontFamily: SERIF, fontWeight: 'bold', fontSize: 11, lineHeight: '13px' }}>Low</div>
      <div style={{ position: 'absolute', left: 811, top: 693, width: 0, height: 0 }}>
        <div style={{ position: 'absolute', left: 0, top: 0, transform: 'translate(-50%, -50%) rotate(-90deg)', fontFamily: SERIF, fontWeight: 'bold', fontSize: 11.5, lineHeight: '13px', whiteSpace: 'nowrap' }}>Feature value</div>
      </div>
    </div>
  );
}
